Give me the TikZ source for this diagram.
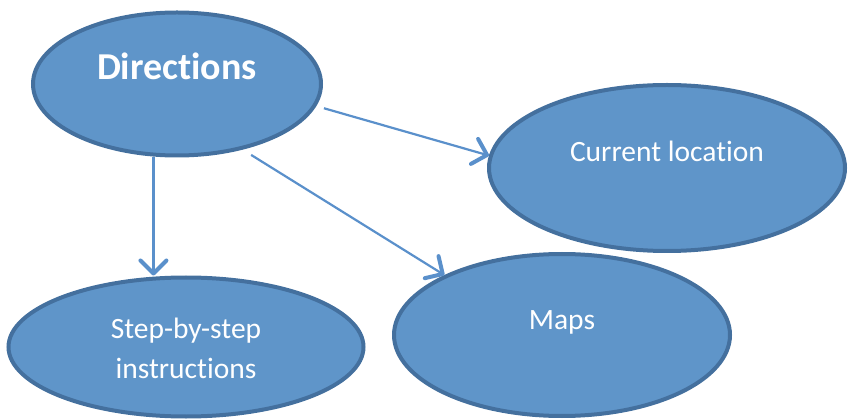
\documentclass[tikz,border=0pt]{standalone}
\usepackage{fontspec}
\setmainfont{Carlito}[Ligatures=NoCommon]
\usetikzlibrary{shapes.geometric,arrows.meta}
\definecolor{bubblefill}{HTML}{5F95C9}
\definecolor{bubbleline}{HTML}{44709E}
\definecolor{linkblue}{HTML}{5A90CB}
\begin{document}
\begin{tikzpicture} [
                x=1pt, y=-1pt,
                bubble/.style={ellipse,draw=bubbleline,fill=bubblefill,line width=4pt,inner sep=0pt},
                caption/.style={text=white,anchor=base,align=center,font=\fontsize{29.5}{40}\selectfont},
                title/.style={caption,font=\fontsize{38}{44}\selectfont\bfseries},
                link/.style={draw=linkblue,line width=2.2pt,
                    -{Straight Barb[length=13pt,width=26pt,line width=4pt,round]}},
            ]
            \useasboundingbox (0,0) rectangle (848,419);
            \foreach \pos/\name/\wd/\ht in {
                    {(177,84)/dir/288/143}, {(667,168)/cur/356/166},
                    {(562,335)/map/336/162}, {(186,347)/stp/355/139}}
                \node[bubble,minimum width=\wd pt,minimum height=\ht pt] (\name) at \pos {};
            \node[title] (dir-txt) at ([yshift=4pt]dir.center) {Directions};
            \node[caption] (cur-txt) at ([yshift=6pt]cur.center) {Current location};
            \node[caption] (map-txt) at ([yshift=5pt]map.center) {Maps};
            \node[caption] (stp-txt) at ([yshift=-31pt]stp.center) {Step-by-step\\instructions};
            \path[link] (dir.-108) -- (dir.-108 |- stp.north);
            \path[link,shorten <=10pt] (dir.-45) -- (map.153);
            \path[link,shorten <=8pt] (dir.-9) -- (cur.176);
        \end{tikzpicture}
\end{document}
